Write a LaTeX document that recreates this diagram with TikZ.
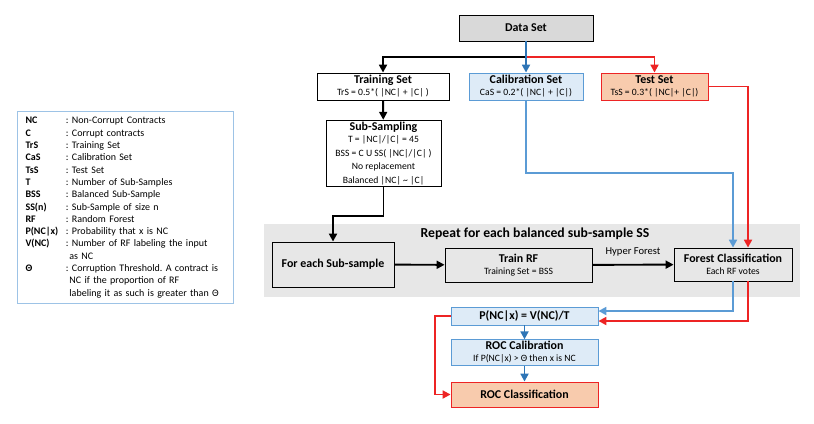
\documentclass[tikz,border=0pt]{standalone}
\usepackage{fontspec}
\setmainfont{Carlito}
\usetikzlibrary{arrows.meta}
\definecolor{boxgray}{RGB}{217,217,217}
\definecolor{loopgray}{RGB}{231,231,231}
\definecolor{calfill}{RGB}{222,235,247}
\definecolor{calline}{RGB}{91,155,213}
\definecolor{darkblue}{RGB}{46,117,182}
\definecolor{testfill}{RGB}{248,203,173}
\definecolor{testred}{RGB}{237,36,36}
\definecolor{legline}{RGB}{157,195,230}
\newcommand{\titletxt}{\fontsize{6.8}{7.8}\selectfont\bfseries}
\newcommand{\subtxt}{\fontsize{5.5}{6.6}\selectfont\mdseries}
\newcommand{\legitem}[2]{\makebox[23pt][l]{\textbf{#1}}: #2}
\frenchspacing

\begin{document}
\begin{tikzpicture}[x=0.02cm,y=-0.02cm,
    box/.style={draw,line width=0.5pt,align=center,inner sep=1pt,font=\titletxt},
    calbox/.style={box,draw=calline,fill=calfill},
    testbox/.style={box,draw=testred,fill=testfill},
    arr/.style={line width=1.1pt,-{Triangle[length=4.5pt,width=4.5pt]}}]
    \useasboundingbox (0,0) rectangle (814,423);
    % legend
    \node[draw=legline,line width=0.6pt,anchor=north west,minimum width=4.32cm,
          minimum height=3.84cm,text width=4.0cm,inner xsep=0.16cm,align=left,
          font=\fontsize{5.7}{7}\selectfont] (legend) at (17,111)
      {\legitem{NC}{Non-Corrupt Contracts}\\
       \legitem{C}{Corrupt contracts}\\
       \legitem{TrS}{Training Set}\\
       \legitem{CaS}{Calibration Set}\\
       \legitem{TsS}{Test Set}\\
       \legitem{T}{Number of Sub-Samples}\\
       \legitem{BSS}{Balanced Sub-Sample}\\
       \legitem{SS(n)}{Sub-Sample of size n}\\
       \legitem{RF}{Random Forest}\\
       \legitem{P(NC|x)}{Probability that x is NC}\\
       \legitem{V(NC)}{Number of RF labeling the input}\\
       \hspace*{25pt}as NC\\
       \legitem{Θ}{Corruption Threshold. A contract is}\\
       \hspace*{25pt}NC if the proportion of RF\\
       \hspace*{25pt}labeling it as such is greater than Θ};
    % the loop region
    \fill[loopgray] (264,224) rectangle (800,297);
    \node[font=\fontsize{7.8}{9}\selectfont\bfseries] (looptitle) at (535,234)
      {Repeat for each balanced sub-sample SS};
    % boxes
    \node[box,fill=boxgray,minimum width=2.68cm,minimum height=0.52cm] (data) at (526,28) {Data Set};
    \node[box,minimum width=2.64cm,minimum height=0.54cm] (train) at (383,86.5)
      {Training Set\\[-1pt]\subtxt TrS = 0.5*( |NC| + |C| )};
    \node[calbox,minimum width=2.28cm,minimum height=0.54cm] (cal) at (526,86.5)
      {Calibration Set\\[-1pt]\subtxt CaS = 0.2*( |NC| + |C|)};
    \node[testbox,minimum width=2.14cm,minimum height=0.54cm] (test) at (654.5,86.5)
      {Test Set\\[-1pt]\subtxt TsS = 0.3*( |NC|+ |C|)};
    \node[box,minimum width=2.30cm,minimum height=1.22cm] (subs) at (383.5,153.5)
      {Sub-Sampling\\[-1pt]\subtxt T = |NC|/|C| = 45\\ \subtxt BSS = C U SS( |NC|/|C| )\\
       \subtxt No replacement\\ \subtxt Balanced |NC| \textasciitilde\ |C|};
    \node[box,minimum width=2.44cm,minimum height=0.90cm] (foreach) at (333,264.5) {For each Sub-sample};
    \node[box,minimum width=2.94cm,minimum height=0.68cm] (trainrf) at (518.5,265)
      {Train RF\\[-1pt]\subtxt Training Set = BSS};
    \node[box,minimum width=2.36cm,minimum height=0.66cm] (forest) at (733,264.5)
      {Forest Classification\\[-1pt]\subtxt Each RF votes};
    \node[calbox,minimum width=2.94cm,minimum height=0.36cm] (pnc) at (524.5,316) {P(NC|x) = V(NC)/T};
    \node[calbox,minimum width=2.94cm,minimum height=0.50cm] (rcal) at (524.5,352.5)
      {ROC Calibration\\[-1pt]\subtxt If P(NC|x) > Θ then x is NC};
    \node[testbox,minimum width=2.94cm,minimum height=0.50cm] (rcls) at (524.5,394.5) {ROC Classification};
    % split of the data set
    \coordinate (split) at (526,57);
    \draw[arr] (split) -| (train);
    \draw[arr,testred] (split) -| (test);
    \draw[arr,darkblue] (data) -- (cal);
    % sets into the pipeline
    \draw[arr] (train) -- (subs);
    \draw[arr] (subs.south) -- ++(0,29) -| (foreach.north);
    \draw[arr] (foreach) -- (trainrf);
    \draw[arr] (trainrf) -- node[above=1pt,font=\fontsize{6}{7}\selectfont]{Hyper Forest} (forest);
    \draw[arr,calline] (cal.south) -- ++(0,73) -| (forest.north);
    \draw[arr,testred] (test.east) -| ([xshift=0.3cm]forest.north);
    % votes and calibration
    \draw[arr,calline] (forest.south) |- ([yshift=0.1cm]pnc.east);
    \draw[arr,testred] ([xshift=0.3cm]forest.south) |- ([yshift=-0.1cm]pnc.east);
    \draw[arr,darkblue] (pnc) -- (rcal);
    \draw[arr,darkblue] (rcal) -- (rcls);
    \draw[arr,testred] (pnc.west) -- ++(-16,0) |- (rcls.west);
\end{tikzpicture}
\end{document}
